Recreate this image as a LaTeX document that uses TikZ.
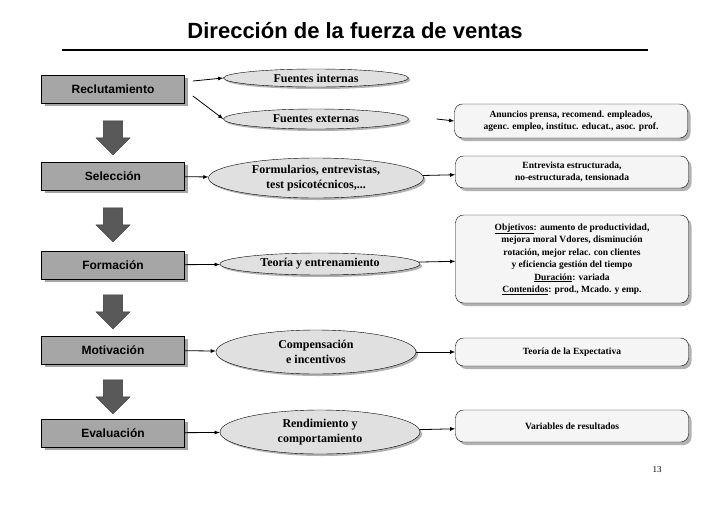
\documentclass[tikz,border=0pt]{standalone}
\usepackage{fontspec}
\setmainfont{Liberation Serif}
\setsansfont{Liberation Sans}
\usetikzlibrary{shapes.geometric,shapes.arrows,shadows}

\tikzset{
	stage/.style = {draw, thick, fill = black!35, minimum width = 143pt, minimum height = 28pt, font = \sffamily\bfseries\fontsize{12}{14}\selectfont, drop shadow = {shadow xshift = 3pt, shadow yshift = -3pt, fill = black!70}},
	oval/.style = {draw, ellipse, fill = black!12, inner sep = 0pt, font = \bfseries\fontsize{12}{15}\selectfont, align = center, drop shadow = {shadow xshift = 2pt, shadow yshift = -2pt, fill = black!60}},
	note/.style = {draw, rounded corners = 8pt, fill = black!4, minimum width = 233pt, font = \bfseries\fontsize{9.5}{12.5}\selectfont, align = center, drop shadow = {shadow xshift = 3pt, shadow yshift = -3pt, fill = black!60}},
	down/.style = {single arrow, draw = black!80, fill = black!65, rotate = -90, minimum height = 34pt, minimum width = 34pt, single arrow head extend = 4pt, inner sep = 5pt},
	link/.style = {thick, -latex}
}

\begin{document}
\begin{tikzpicture}[x = 1pt, y = -1pt]
	\useasboundingbox (0, 0) rectangle (728, 504);
	
	% title
	\node (title) at (355, 31) {\sffamily\bfseries\fontsize{22}{24}\selectfont Dirección de la fuerza de ventas};
	\draw[line width = 2.5pt] (62, 50) -- (648, 50);
	
	% stages
	\node[stage] (rec) at (113, 89) {Reclutamiento};
	\node[stage] (sel) at (113, 176) {Selección};
	\node[stage] (for) at (113, 265) {Formación};
	\node[stage] (mot) at (113, 350) {Motivación};
	\node[stage] (eva) at (113, 433) {Evaluación};
	
	\foreach \y in {133, 220, 307, 392}
	\node[down] at (113, \y) {};
	
	% ovals
	\node[oval, minimum width = 185pt, minimum height = 18pt] (int) at (316, 78) {Fuentes internas};
	\node[oval, minimum width = 185pt, minimum height = 20pt] (ext) at (316, 119) {Fuentes externas};
	\node[oval, minimum width = 215pt, minimum height = 40pt] (frm) at (316, 178) {Formularios, entrevistas,\\test psicotécnicos,...};
	\node[oval, minimum width = 200pt, minimum height = 22pt] (teo) at (320, 264) {Teoría y entrenamiento};
	\node[oval, minimum width = 200pt, minimum height = 44pt] (com) at (316, 352) {Compensación\\e incentivos};
	\node[oval, minimum width = 200pt, minimum height = 44pt] (ren) at (320, 432) {Rendimiento y\\comportamiento};
	
	% notes
	\node[note, minimum height = 34pt] (anu) at (571, 121) {Anuncios prensa, recomend. empleados,\\agenc. empleo, instituc. educat., asoc. prof.};
	\node[note, minimum height = 32pt] (ent) at (572, 172) {Entrevista estructurada,\\no-estructurada, tensionada};
	\node[note, minimum height = 88pt] (obj) at (572, 259) {\underline{Objetivos}: aumento de productividad,\\mejora moral Vdores, disminución\\rotación, mejor relac. con clientes\\y eficiencia gestión del tiempo\\\underline{Duración}: variada\\\underline{Contenidos}: prod., Mcado. y emp.};
	\node[note, minimum height = 28pt] (exp) at (572, 352) {Teoría de la Expectativa};
	\node[note, minimum height = 32pt] (var) at (572, 426) {Variables de resultados};
	
	% links
	\draw[link] (rec.east) ++(8, -8) -- (int.west);
	\draw[link] (rec.east) ++(8, 7) -- (ext.west);
	\draw[link] (ext.east) ++(28, 0) -- (anu.west);
	\draw[link] (sel) -- (frm);
	\draw[link] (frm) -- (ent);
	\draw[link] (for) -- (teo);
	\draw[link] (teo) -- (obj);
	\draw[link] (mot) -- (com);
	\draw[link] (com) -- (exp);
	\draw[link] (eva) -- (ren);
	\draw[link] (ren) -- (var);
	
	\node (page) at (657, 470) {\small 13};
\end{tikzpicture}
\end{document}
